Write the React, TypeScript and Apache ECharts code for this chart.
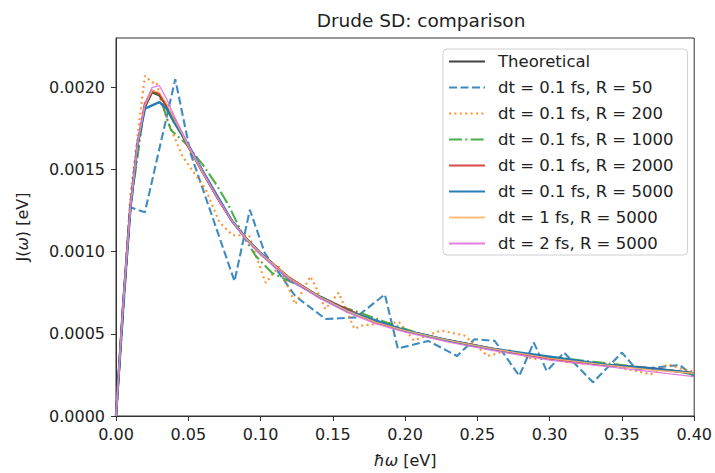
import React, { useEffect, useRef } from "react";
import * as echarts from "echarts";

// Shared x-grid for the smooth curves (eV)
const smoothX = [0, 0.005, 0.01, 0.015, 0.02, 0.025, 0.03, 0.035, 0.04, 0.045, 0.05, 0.06, 0.07, 0.08, 0.09, 0.10, 0.12, 0.14, 0.16, 0.18, 0.20, 0.23, 0.26, 0.30, 0.34, 0.37, 0.40];
const theoretical = [0, 0.00069, 0.00127, 0.00165, 0.00188, 0.00197, 0.00195, 0.00189, 0.00181, 0.00173, 0.00164, 0.00148, 0.00133, 0.00119, 0.00108, 0.00099, 0.00084, 0.00073, 0.00064, 0.00057, 0.00052, 0.00046, 0.00041, 0.00035, 0.00031, 0.00029, 0.00026];
const r2000 = [0, 0.00068, 0.00128, 0.00166, 0.0019, 0.00198, 0.00196, 0.00188, 0.0018, 0.00172, 0.00164, 0.00149, 0.00133, 0.00119, 0.00108, 0.00099, 0.00084, 0.00073, 0.00065, 0.00057, 0.00052, 0.00046, 0.00041, 0.00035, 0.00031, 0.00029, 0.00026];
const r5000 = [0, 0.00068, 0.00127, 0.00166, 0.00187, 0.00189, 0.00191, 0.00187, 0.00179, 0.00172, 0.00165, 0.00149, 0.00134, 0.00119, 0.00108, 0.00099, 0.00083, 0.00073, 0.00064, 0.00058, 0.00052, 0.00046, 0.00041, 0.00036, 0.00031, 0.00029, 0.00026];
const dt1 = [0, 0.00069, 0.00128, 0.00166, 0.00189, 0.00198, 0.00197, 0.0019, 0.00181, 0.00173, 0.00164, 0.00148, 0.00133, 0.00119, 0.00108, 0.00099, 0.00084, 0.00073, 0.00064, 0.00057, 0.00052, 0.00046, 0.00041, 0.00035, 0.00031, 0.00028, 0.00026];
const dt2 = [0, 0.00068, 0.00127, 0.00166, 0.0019, 0.002, 0.00201, 0.00193, 0.00183, 0.00174, 0.00165, 0.00149, 0.00133, 0.00119, 0.00107, 0.00098, 0.00083, 0.00072, 0.00063, 0.00056, 0.00051, 0.00045, 0.0004, 0.00034, 0.0003, 0.00027, 0.00024];

// dt = 0.1 fs, R = 50 (coarse)
const r50X = [0, 0.0096, 0.02, 0.041, 0.0515, 0.082, 0.0926, 0.103, 0.124, 0.145, 0.166, 0.186, 0.195, 0.216, 0.236, 0.248, 0.262, 0.279, 0.289, 0.298, 0.31, 0.33, 0.35, 0.36, 0.39, 0.4];
const r50Y = [0, 0.00127, 0.00124, 0.00205, 0.0016, 0.00082, 0.001255, 0.00099, 0.00073, 0.00059, 0.0006, 0.00074, 0.00041, 0.000457, 0.000365, 0.000467, 0.000457, 0.000244, 0.000447, 0.000274, 0.000386, 0.000205, 0.000386, 0.000284, 0.00031, 0.00024];

// dt = 0.1 fs, R = 200
const r200X = [0, 0.01, 0.02, 0.025, 0.028, 0.035, 0.046, 0.062, 0.0715, 0.0806, 0.092, 0.101, 0.1036, 0.1127, 0.1207, 0.124, 0.1345, 0.138, 0.1448, 0.154, 0.165, 0.17, 0.18, 0.196, 0.206, 0.225, 0.241, 0.257, 0.272, 0.289, 0.298, 0.31, 0.327, 0.345, 0.37, 0.382, 0.39, 0.4];
const r200Y = [0, 0.00135, 0.00207, 0.00203, 0.00203, 0.00181, 0.00158, 0.00138, 0.00118, 0.0011, 0.0011, 0.00087, 0.00081, 0.00091, 0.00075, 0.00068, 0.00085, 0.00079, 0.00065, 0.00075, 0.00053, 0.00055, 0.00056, 0.00057, 0.00046, 0.00052, 0.00049, 0.000365, 0.0004, 0.000345, 0.000365, 0.00033, 0.000315, 0.0003, 0.000254, 0.000315, 0.00029, 0.00027];

// dt = 0.1 fs, R = 1000
const r1000X = [0, 0.01, 0.02, 0.025, 0.03, 0.038, 0.048, 0.06, 0.07, 0.078, 0.089, 0.097, 0.108, 0.13, 0.154, 0.165, 0.19, 0.21, 0.23, 0.25, 0.27, 0.29, 0.31, 0.33, 0.35, 0.37, 0.39, 0.4];
const r1000Y = [0, 0.00127, 0.0019, 0.00198, 0.00195, 0.00174, 0.00166, 0.00153, 0.0014, 0.00128, 0.00108, 0.00097, 0.00087, 0.00078, 0.00067, 0.00064, 0.00056, 0.0005, 0.00046, 0.00042, 0.00039, 0.00037, 0.00035, 0.00033, 0.00031, 0.00029, 0.00027, 0.00025];

const legendNames = [
  "Theoretical",
  "dt = 0.1 fs, R = 50",
  "dt = 0.1 fs, R = 200",
  "dt = 0.1 fs, R = 1000",
  "dt = 0.1 fs, R = 2000",
  "dt = 0.1 fs, R = 5000",
  "dt = 1 fs, R = 5000",
  "dt = 2 fs, R = 5000",
];
const xTicks = [0, 0.05, 0.1, 0.15, 0.2, 0.25, 0.3, 0.35, 0.4];
const yTicks = [0, 0.0005, 0.001, 0.0015, 0.002];

const zip = (xs: number[], ys: number[]) => xs.map((x, i) => [x, ys[i]]);

const FONT = "DejaVu Sans";
const FS = 16;

export default function App() {
  const ref = useRef<HTMLDivElement>(null);
  useEffect(() => {
    document.body.style.margin = "0";
    const chart = echarts.init(ref.current!, null, { renderer: "svg" });
    const mk = (name: string, data: number[][], color: string, width: number, type: any, opacity = 0.85) => ({
      name,
      type: "line",
      data,
      symbol: "none",
      showSymbol: false,
      clip: true,
      lineStyle: { color, width, type, opacity, cap: "butt" },
      itemStyle: { color },
      emphasis: { disabled: true },
    });
    chart.setOption({
      animation: false,
      backgroundColor: "#ffffff",
      graphic: [
        {
          type: "text",
          x: 421,
          y: 20,
          style: {
            text: "Drude SD: comparison",
            fontFamily: FONT,
            fontSize: 18.5,
            fill: "#222",
            align: "center",
            verticalAlign: "middle",
          },
        },
      ],
      grid: {
        left: 116,
        right: 17,
        top: 38,
        bottom: 56,
        show: true,
        borderColor: "#333",
        borderWidth: 1,
        backgroundColor: "transparent",
      },
      legend: {
        orient: "vertical",
        left: 443,
        top: 49,
        data: legendNames,
        itemWidth: 36,
        itemHeight: 16,
        itemGap: 9,
        padding: [4, 14, 3, 5],
        backgroundColor: "rgba(255,255,255,0.85)",
        borderColor: "#d0d0d0",
        borderWidth: 1,
        borderRadius: 4,
        itemStyle: { opacity: 0 },
        textStyle: { fontFamily: FONT, fontSize: 16.5, color: "#222", padding: [0, 0, 0, 8] },
        selectedMode: false,
      },
      xAxis: {
        type: "value",
        min: 0,
        max: 0.4,
        interval: 0.05,
        name: "{i|ħω} [eV]",
        nameLocation: "middle",
        nameGap: 36,
        nameTextStyle: {
          fontFamily: FONT,
          fontSize: FS,
          color: "#222",
          rich: { i: { fontFamily: FONT, fontSize: FS, fontStyle: "italic", color: "#222" } },
        },
        axisLine: { show: true, lineStyle: { color: "#333", width: 1 } },
        axisTick: { show: true, inside: false, length: 5, lineStyle: { color: "#333" } },
        axisLabel: {
          fontFamily: FONT,
          fontSize: FS,
          color: "#222",
          margin: 10,
          formatter: (v: number) => (xTicks.some((t) => Math.abs(t - v) < 1e-9) ? v.toFixed(2) : ""),
        },
        splitLine: { show: false },
      },
      yAxis: {
        type: "value",
        min: 0,
        max: 0.0023,
        interval: 0.0005,
        name: "J({i|ω}) [eV]",
        nameLocation: "middle",
        nameGap: 86,
        nameRotate: 90,
        nameTextStyle: {
          fontFamily: FONT,
          fontSize: FS,
          color: "#222",
          rich: { i: { fontFamily: FONT, fontSize: FS, fontStyle: "italic", color: "#222" } },
        },
        axisLine: { show: true, lineStyle: { color: "#333", width: 1 } },
        axisTick: { show: true, inside: false, length: 5, lineStyle: { color: "#333" } },
        axisLabel: {
          fontFamily: FONT,
          fontSize: FS,
          color: "#222",
          margin: 11,
          showMaxLabel: false,
          formatter: (v: number) => (yTicks.some((t) => Math.abs(t - v) < 1e-12) ? v.toFixed(4) : ""),
        },
        splitLine: { show: false },
      },
      series: [
        mk(legendNames[0], zip(smoothX, theoretical), "#222222", 2.1, "solid", 0.85),
        mk(legendNames[1], zip(r50X, r50Y), "#1f77b4", 2.1, [8, 3.5], 0.85),
        mk(legendNames[2], zip(r200X, r200Y), "#ff7f0e", 2.1, [2, 3.4], 0.85),
        mk(legendNames[3], zip(r1000X, r1000Y), "#2ca02c", 2.1, [13, 3.3, 2, 3.3], 0.85),
        mk(legendNames[4], zip(smoothX, r2000), "#d62728", 2.1, "solid", 0.85),
        mk(legendNames[5], zip(smoothX, r5000), "#1f77b4", 2.5, "solid", 0.95),
        mk(legendNames[6], zip(smoothX, dt1), "#ffb26e", 1.3, "solid", 0.9),
        mk(legendNames[7], zip(smoothX, dt2), "#e070e0", 1.3, "solid", 0.9),
      ],
    });
    return () => chart.dispose();
  }, []);
  return <div ref={ref} style={{ width: 715, height: 473 }} />;
}
